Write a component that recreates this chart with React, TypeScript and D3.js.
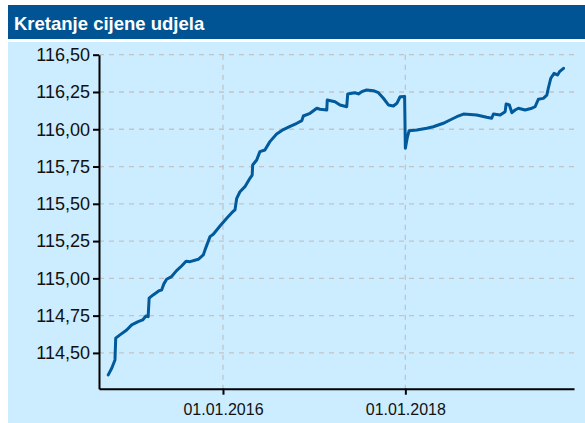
import React, { useEffect, useRef } from 'react';
import * as d3 from 'd3';

const title = 'Kretanje cijene udjela';

const dates = [
  '2014-09-28', '2014-10-12', '2014-10-25', '2014-10-28', '2014-11-14', '2014-12-11', '2014-12-31',
  '2015-01-26', '2015-02-13', '2015-02-26', '2015-03-07', '2015-03-11', '2015-03-27', '2015-04-21',
  '2015-04-30', '2015-05-09', '2015-05-20', '2015-06-09', '2015-06-29', '2015-07-19', '2015-08-06',
  '2015-08-22', '2015-09-24', '2015-10-14', '2015-10-21', '2015-11-10', '2015-11-23', '2015-12-20',
  '2016-01-16', '2016-02-09', '2016-02-18', '2016-02-25', '2016-03-09', '2016-03-29', '2016-04-18',
  '2016-04-27', '2016-04-29', '2016-05-15', '2016-05-28', '2016-06-17', '2016-07-07', '2016-08-03',
  '2016-08-30', '2016-09-26', '2016-10-23', '2016-11-12', '2016-11-18', '2016-12-15', '2017-01-11',
  '2017-01-24', '2017-02-20', '2017-02-22', '2017-03-25', '2017-04-14', '2017-05-11', '2017-05-15',
  '2017-06-13', '2017-06-27', '2017-07-10', '2017-07-30', '2017-08-26', '2017-09-15', '2017-10-05',
  '2017-10-25', '2017-11-14', '2017-11-28', '2017-12-11', '2017-12-29', '2018-01-01', '2018-01-09',
  '2018-01-16', '2018-02-16', '2018-03-28', '2018-04-23', '2018-06-02', '2018-06-29', '2018-07-26',
  '2018-08-22', '2018-10-14', '2018-11-23', '2018-12-13', '2018-12-20', '2019-01-16', '2019-02-05',
  '2019-02-09', '2019-02-22', '2019-03-04', '2019-03-17', '2019-03-30', '2019-04-26', '2019-05-23',
  '2019-06-05', '2019-06-18', '2019-07-08', '2019-07-22', '2019-07-28', '2019-08-07', '2019-08-20',
  '2019-09-03', '2019-09-11', '2019-09-27',
];

const values = [
  114.353, 114.397, 114.453, 114.599, 114.621, 114.654, 114.688,
  114.710, 114.721, 114.748, 114.743, 114.867, 114.889, 114.918,
  114.922, 114.963, 114.994, 115.012, 115.052, 115.083, 115.115,
  115.112, 115.128, 115.157, 115.191, 115.280, 115.296, 115.351,
  115.403, 115.447, 115.459, 115.537, 115.581, 115.615, 115.671,
  115.693, 115.760, 115.794, 115.850, 115.861, 115.917, 115.968,
  115.998, 116.019, 116.040, 116.058, 116.089, 116.107, 116.141,
  116.134, 116.129, 116.196, 116.185, 116.163, 116.151, 116.237,
  116.245, 116.237, 116.252, 116.263, 116.259, 116.245, 116.208,
  116.163, 116.156, 116.174, 116.218, 116.220, 115.872, 115.946,
  115.990, 115.995, 116.007, 116.017, 116.040, 116.062, 116.084,
  116.102, 116.096, 116.080, 116.074, 116.102, 116.096, 116.118,
  116.170, 116.163, 116.111, 116.129, 116.141, 116.129, 116.141,
  116.151, 116.201, 116.207, 116.229, 116.275, 116.342, 116.375,
  116.364, 116.386, 116.409,
];

const yTicks = [114.5, 114.75, 115.0, 115.25, 115.5, 115.75, 116.0, 116.25, 116.5];
const xTicks = ['2016-01-01', '2018-01-01'];
const xDomain = ['2014-08-22', '2019-11-08'];
const yDomain = [114.26, 116.5];

const FONT = "'Liberation Sans', Arial, sans-serif";

export default function App() {
  const svgRef = useRef<SVGSVGElement>(null);

  useEffect(() => {
    if (!svgRef.current) return;
    const svg = d3.select(svgRef.current);
    svg.selectAll('*').remove();

    const parse = d3.utcParse('%Y-%m-%d');
    const data = dates.map((d, i) => ({ date: parse(d) as Date, value: values[i] }));
    const plot = { left: 99, right: 574, top: 54.7, bottom: 388.7 };

    const x = d3.scaleUtc()
      .domain(xDomain.map(d => parse(d) as Date))
      .range([plot.left, plot.right]);
    const y = d3.scaleLinear()
      .domain(yDomain)
      .range([plot.bottom, plot.top]);

    const fmtNum = d3.formatLocale({ decimal: ',', thousands: '.', grouping: [3], currency: ['', ''] }).format('.2f');
    const fmtDate = d3.utcFormat('%d.%m.%Y');

    // header + panel
    svg.append('rect').attr('x', 8).attr('y', 5).attr('width', 577).attr('height', 34).attr('fill', '#005493');
    svg.append('text')
      .attr('x', 14).attr('y', 29.5)
      .attr('fill', '#ffffff')
      .attr('font-family', FONT).attr('font-weight', 'bold').attr('font-size', 18.5)
      .text(title);
    svg.append('rect').attr('x', 8).attr('y', 42).attr('width', 577).attr('height', 381).attr('fill', '#CCECFF');

    // grid
    svg.append('g').selectAll('line').data(yTicks).enter().append('line')
      .attr('x1', plot.left).attr('x2', plot.right)
      .attr('y1', d => y(d)).attr('y2', d => y(d))
      .attr('stroke', '#C4C4C4').attr('stroke-width', 1.3).attr('stroke-dasharray', '5,5');
    svg.append('g').selectAll('line').data(xTicks).enter().append('line')
      .attr('x1', d => x(parse(d) as Date)).attr('x2', d => x(parse(d) as Date))
      .attr('y1', plot.top).attr('y2', plot.bottom)
      .attr('stroke', '#C4C4C4').attr('stroke-width', 1.3).attr('stroke-dasharray', '5,5');

    // line
    const line = d3.line<{ date: Date; value: number }>()
      .x(d => x(d.date))
      .y(d => y(d.value));
    svg.append('path')
      .datum(data)
      .attr('d', line)
      .attr('fill', 'none')
      .attr('stroke', '#005A9C')
      .attr('stroke-width', 3)
      .attr('stroke-linejoin', 'round')
      .attr('stroke-linecap', 'round');

    // axes
    const yAxis = svg.append('g')
      .attr('transform', `translate(${plot.left},0)`)
      .call(d3.axisLeft(y).tickValues(yTicks).tickFormat(d => fmtNum(d as number)).tickSize(6).tickSizeOuter(0).tickPadding(3));
    yAxis.selectAll('path, line').attr('stroke', '#000').attr('stroke-width', 2);
    yAxis.selectAll('text').attr('font-family', FONT).attr('font-size', 18).attr('fill', '#111');

    const xAxis = svg.append('g')
      .attr('transform', `translate(0,${plot.bottom})`)
      .call(d3.axisBottom(x).tickValues(xTicks.map(d => parse(d) as Date)).tickFormat(d => fmtDate(d as Date)).tickSize(6).tickSizeOuter(0).tickPadding(9));
    xAxis.selectAll('path, line').attr('stroke', '#000').attr('stroke-width', 2);
    xAxis.selectAll('text').attr('font-family', FONT).attr('font-size', 16).attr('fill', '#111');
  }, []);

  return (
    <svg
      ref={svgRef}
      width={585}
      height={423}
      style={{ position: 'absolute', left: 0, top: 0 }}
    />
  );
}
